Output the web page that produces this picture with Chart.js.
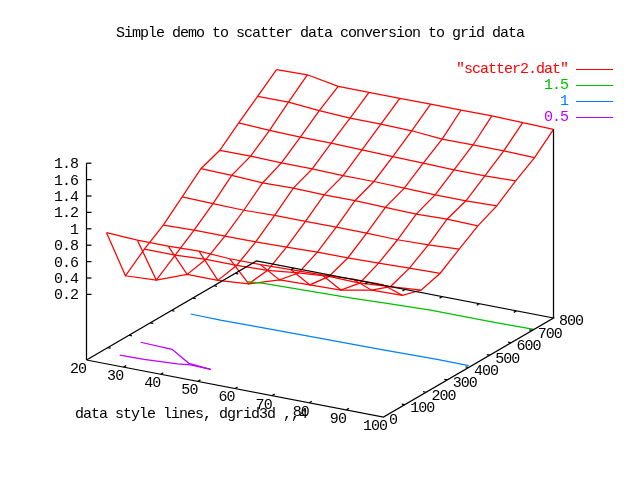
<!DOCTYPE html>
<html>
<head>
<meta charset="utf-8">
<title>scatter2</title>
<script src="https://cdn.jsdelivr.net/npm/chart.js@4"></script>
<style>
  html, body { margin: 0; padding: 0; background: #fff; }
  canvas { display: block; }
</style>
</head>
<body>
<canvas id="grafico" width="640" height="480"></canvas>
<script>
const titulo = 'Simple demo to scatter data conversion to grid data'
const rotulo = 'data style lines, dgrid3d ,,4'
const serieNomes = ['"scatter2.dat"', '1.5', '1', '0.5']
const serieCores = ['#ff0000', '#00c000', '#0080ff', '#c000ff']

const xTicks = [20, 30, 40, 50, 60, 70, 80, 90, 100]
const yTicks = [0, 100, 200, 300, 400, 500, 600, 700, 800]
const zTicks = ['0.2', '0.4', '0.6', '0.8', '1', '1.2', '1.4', '1.6', '1.8']

const xGrade = [25.4, 33.7, 42, 50.3, 58.6, 66.9, 75.1, 83.4, 91.7, 100]
const yGrade = [0, 89, 178, 267, 356, 444, 533, 622, 711, 800]

const z0 = [1.00, 0.98, 0.98, 0.99, 0.97, 0.97, 0.98, 0.99, 1.01, 1.01]
const z1 = [0.34, 0.36, 0.50, 0.50, 0.53, 0.65, 0.66, 0.67, 0.74, 0.75]
const z2 = [0.53, 0.53, 0.55, 0.55, 0.56, 0.60, 0.63, 0.62, 0.65, 0.68]
const z3 = [0.69, 0.70, 0.70, 0.70, 0.71, 0.72, 0.72, 0.73, 0.74, 0.75]
const z4 = [0.90, 0.89, 0.88, 0.89, 0.89, 0.89, 0.89, 0.88, 0.89, 0.91]
const z5 = [1.11, 1.10, 1.08, 1.09, 1.08, 1.08, 1.07, 1.06, 1.07, 1.06]
const z6 = [1.20, 1.20, 1.19, 1.19, 1.18, 1.18, 1.17, 1.16, 1.16, 1.17]
const z7 = [1.40, 1.38, 1.37, 1.37, 1.36, 1.35, 1.34, 1.33, 1.33, 1.34]
const z8 = [1.59, 1.59, 1.56, 1.54, 1.54, 1.53, 1.50, 1.50, 1.50, 1.49]
const z9 = [1.78, 1.79, 1.72, 1.72, 1.72, 1.72, 1.72, 1.72, 1.71, 1.70]
const zGrade = [z0, z1, z2, z3, z4, z5, z6, z7, z8, z9]

// contornos no plano da base
const c15x = [25.3, 29.2, 39.7, 52.6, 61.2, 72.3, 90.3, 100]
const c15y = [663, 673, 679, 686, 695, 705, 704, 708]
const c10x = [25.1, 33.3, 43.9, 59.9, 75.8, 90.8, 99.4]
const c10y = [401, 398, 402, 405, 408, 413, 411]
const c05ax = [24.8, 33.6, 41.9, 48.4]
const c05ay = [171, 165, 99, 88]
const c05bx = [25, 31.4, 39.8, 42.8, 48.4]
const c05by = [69, 71, 82, 91, 88]

const zBase = -0.6
const zTopoDireito = 1.7

// projecao da vista 3d para o pixel da tela
function proj(x, y, z) {
    const dx = x - 20
    return {
        x: 86.5 + 3.7125 * dx + 0.2125 * y,
        y: 360 + 0.7125 * dx - 0.12375 * y - (z - zBase) * 82
    }
}

function linha(pontos, cor, ordem) {
    return {
        data: pontos,
        showLine: true,
        borderColor: cor,
        borderWidth: 1.25,
        pointRadius: 0,
        tension: 0,
        order: ordem
    }
}

const datasets = []

// linhas e colunas da superficie
zGrade.forEach((linhaZ, j) => {
    datasets.push(linha(linhaZ.map((z, i) => proj(xGrade[i], yGrade[j], z)), serieCores[0], 5))
})
xGrade.forEach((x, i) => {
    datasets.push(linha(yGrade.map((y, j) => proj(x, y, zGrade[j][i])), serieCores[0], 5))
})

// contornos
datasets.push(linha(c15x.map((x, i) => proj(x, c15y[i], zBase)), serieCores[1], 3))
datasets.push(linha(c10x.map((x, i) => proj(x, c10y[i], zBase)), serieCores[2], 3))
datasets.push(linha(c05ax.map((x, i) => proj(x, c05ay[i], zBase)), serieCores[3], 3))
datasets.push(linha(c05bx.map((x, i) => proj(x, c05by[i], zBase)), serieCores[3], 3))

// moldura da base e eixos z
const moldura = [proj(20, 0, zBase), proj(100, 0, zBase), proj(100, 800, zBase), proj(20, 800, zBase), proj(20, 0, zBase)]
datasets.push(linha(moldura, '#000', 1))
datasets.push(linha([proj(20, 0, zBase), proj(20, 0, 1.8)], '#000', 1))
datasets.push(linha([proj(100, 800, zBase), proj(100, 800, zTopoDireito)], '#000', 1))

// marcas dos eixos
xTicks.slice(1, -1).forEach(x => {
    datasets.push(linha([proj(x, 0, zBase), proj(x, 12, zBase)], '#000', 1))
    datasets.push(linha([proj(x, 800, zBase), proj(x, 788, zBase)], '#000', 1))
})
yTicks.slice(1, -1).forEach(y => {
    datasets.push(linha([proj(20, y, zBase), proj(20.8, y, zBase)], '#000', 1))
    datasets.push(linha([proj(100, y, zBase), proj(99.2, y, zBase)], '#000', 1))
})
zTicks.forEach(z => {
    const p = proj(20, 0, Number(z))
    datasets.push(linha([p, { x: p.x + 5, y: p.y }], '#000', 1))
})

const fonte = '15px "Liberation Mono"'

const textos = {
    id: 'textos',
    afterDraw(chart) {
        const ctx = chart.ctx
        ctx.save()
        ctx.font = fonte
        ctx.letterSpacing = '-1px'
        ctx.textBaseline = 'middle'

        ctx.fillStyle = '#000'
        ctx.textAlign = 'center'
        ctx.fillText(titulo, 320, 33)

        xTicks.forEach(x => {
            const p = proj(x, 0, zBase)
            ctx.fillText(String(x), p.x - 8.5, p.y + 9)
        })

        ctx.textAlign = 'left'
        ctx.fillText(rotulo, 75, 414.5)
        yTicks.forEach(y => {
            const p = proj(100, y, zBase)
            ctx.fillText(String(y), p.x + 5.5, p.y + 3.5)
        })

        ctx.textAlign = 'right'
        zTicks.forEach(z => {
            ctx.fillText(z, 78, proj(20, 0, Number(z)).y + 1)
        })

        serieNomes.forEach((nome, i) => {
            const y = 69 + i * 16
            ctx.fillStyle = serieCores[i]
            ctx.fillText(nome, 568, y + 0.5)
            ctx.strokeStyle = serieCores[i]
            ctx.lineWidth = 1
            ctx.beginPath()
            ctx.moveTo(576, y + 0.5)
            ctx.lineTo(613, y + 0.5)
            ctx.stroke()
        })
        ctx.restore()
    }
}

new Chart(document.getElementById('grafico'), {
    type: 'scatter',
    data: { datasets: datasets },
    options: {
        responsive: false,
        animation: false,
        devicePixelRatio: 1,
        layout: { padding: 0 },
        plugins: { legend: { display: false }, tooltip: { enabled: false } },
        scales: {
            x: { type: 'linear', min: 0, max: 640, display: false },
            y: { type: 'linear', min: 0, max: 480, reverse: true, display: false }
        }
    },
    plugins: [textos]
})
</script>
</body>
</html>
